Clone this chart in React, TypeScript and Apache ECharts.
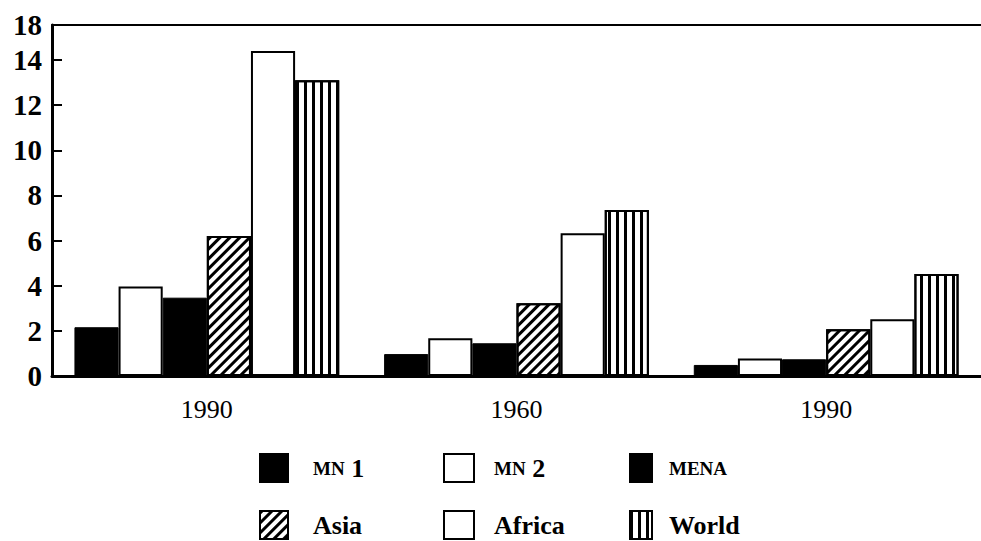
import React, { useEffect, useRef } from "react";
import * as echarts from "echarts";

const categories = ["1990", "1960", "1990"];
const seriesNames = ["MN 1", "MN 2", "MENA", "Asia", "Africa", "World"];
const mn1 = [2.16, 0.97, 0.49];
const mn2 = [3.96, 1.67, 0.77];
const mena = [3.47, 1.45, 0.74];
const asia = [6.2, 3.22, 2.07];
const africa = [14.4, 6.32, 2.51];
const world = [13.1, 7.35, 4.52];
const yTickLabels = ["0", "2", "4", "6", "8", "10", "12", "14", "18"];
const yMax = 15.55;

const SERIF = "Liberation Serif";

export default function App() {
  const ref = useRef<HTMLDivElement>(null);
  useEffect(() => {
    document.body.style.margin = "0";
    if (!ref.current) return;
    const chart = echarts.init(ref.current, undefined, { renderer: "svg" });
    const values = [mn1, mn2, mena, asia, africa, world];
    const styles: any[] = [
      { color: "#000", borderColor: "#000", borderWidth: 1 },
      { color: "#fff", borderColor: "#000", borderWidth: 2 },
      { color: "#000", borderColor: "#000", borderWidth: 1 },
      {
        color: "#fff",
        borderColor: "#000",
        borderWidth: 2,
        decal: {
          symbol: "rect",
          color: "#000",
          backgroundColor: "#fff",
          dashArrayX: [1, 0],
          dashArrayY: [2.5, 3.5],
          rotation: -Math.PI / 4,
        },
      },
      { color: "#fff", borderColor: "#000", borderWidth: 2 },
      {
        color: "#fff",
        borderColor: "#000",
        borderWidth: 2,
        decal: {
          symbol: "rect",
          color: "#000",
          backgroundColor: "#fff",
          dashArrayX: [3, 5],
          dashArrayY: [1, 0],
          rotation: 0,
        },
      },
    ];
    const series = seriesNames.map((name, i) => ({
      name,
      type: "bar",
      data: values[i],
      barGap: "0%",
      barCategoryGap: "14.5%",
      itemStyle: styles[i],
      emphasis: { disabled: true },
    }));
    const legendFormatter = (name: string) => {
      if (name === "MENA") return "{sc|MENA}";
      if (name.startsWith("MN ")) return "{sc|MN}{num| " + name.slice(3) + "}";
      return name;
    };
    const rich = {
      sc: { fontFamily: SERIF, fontSize: 19, fontWeight: "bold", color: "#000" },
      num: { fontFamily: SERIF, fontSize: 26, color: "#000" },
    };
    const mkLegend = (data: string[], left: number, itemWidth: number, padLeft: number) => ({
      orient: "vertical",
      left,
      top: 453,
      height: 88,
      padding: 0,
      itemWidth,
      itemHeight: 28,
      itemGap: 27,
      icon: "rect",
      selectedMode: false,
      data,
      formatter: legendFormatter,
      textStyle: {
        fontFamily: SERIF,
        fontSize: 26,
        fontWeight: "bold",
        color: "#000",
        padding: [0, 0, 0, padLeft],
        rich,
      },
    });
    chart.setOption({
      animation: false,
      backgroundColor: "#fff",
      grid: { left: 52, right: 0, top: 25, bottom: 165, containLabel: false },
      legend: [
        mkLegend(["MN 1", "Asia"], 259, 28, 20),
        mkLegend(["MN 2", "Africa"], 443, 30, 15),
        mkLegend(["MENA", "World"], 629, 22, 12),
      ],
      xAxis: [
        {
          type: "category",
          data: categories,
          axisLine: { show: true, lineStyle: { color: "#000", width: 3 } },
          axisTick: { show: false },
          axisLabel: {
            fontFamily: SERIF,
            fontSize: 26,
            color: "#000",
            margin: 20,
          },
        },
        {
          type: "category",
          position: "top",
          data: categories,
          axisLine: { show: true, lineStyle: { color: "#000", width: 2 } },
          axisTick: { show: false },
          axisLabel: { show: false },
        },
      ],
      yAxis: {
        type: "value",
        min: 0,
        max: yMax,
        interval: 2,
        splitLine: { show: false },
        axisLine: { show: true, lineStyle: { color: "#000", width: 3 } },
        axisTick: { show: true, inside: true, length: 10, lineStyle: { color: "#000", width: 2 } },
        axisLabel: {
          fontFamily: SERIF,
          fontSize: 29,
          fontWeight: "bold",
          color: "#000",
          margin: 10,
          formatter: (v: number) => {
            const idx = Math.round(v / 2);
            if (v > 14.5) return yTickLabels[yTickLabels.length - 1];
            return yTickLabels[idx] ?? "";
          },
        },
      },
      series,
    });
    return () => chart.dispose();
  }, []);
  return <div ref={ref} style={{ width: 981, height: 541 }} />;
}
